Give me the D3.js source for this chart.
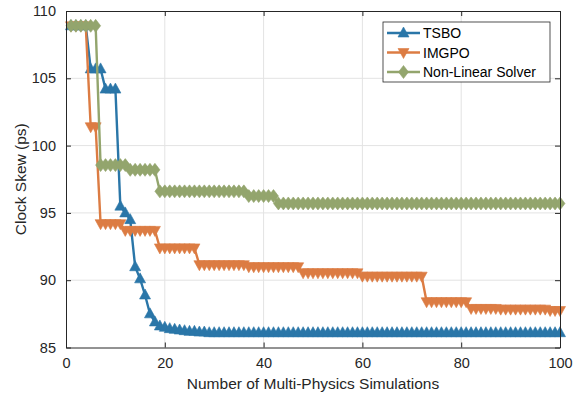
<!DOCTYPE html>
<html>
<head>
<meta charset="utf-8">
<script src="https://cdn.jsdelivr.net/npm/d3@7"></script>
<style>
  body { margin: 0; background: #fff; }
  svg { display: block; font-family: "Liberation Sans", Arial, sans-serif; }
</style>
</head>
<body>
<div id="chart"></div>
<script>
// number of simulations: 1..100
var xValues = d3.range(1, 101);

var tsbo = [
  108.9, 108.9, 108.9, 108.9, 105.7, 105.7, 105.7, 104.2, 104.2, 104.2,
  95.5, 95.0, 94.5, 91.0, 90.1, 88.9, 87.5, 86.9, 86.6, 86.5,
  86.4, 86.35, 86.3, 86.25, 86.2, 86.2, 86.15, 86.15, 86.1, 86.1,
  86.1, 86.1, 86.1, 86.1, 86.1, 86.1, 86.1, 86.1, 86.1, 86.1,
  86.1, 86.1, 86.1, 86.1, 86.1, 86.1, 86.1, 86.1, 86.1, 86.1,
  86.1, 86.1, 86.1, 86.1, 86.1, 86.1, 86.1, 86.1, 86.1, 86.1,
  86.1, 86.1, 86.1, 86.1, 86.1, 86.1, 86.1, 86.1, 86.1, 86.1,
  86.1, 86.1, 86.1, 86.1, 86.1, 86.1, 86.1, 86.1, 86.1, 86.1,
  86.1, 86.1, 86.1, 86.1, 86.1, 86.1, 86.1, 86.1, 86.1, 86.1,
  86.1, 86.1, 86.1, 86.1, 86.1, 86.1, 86.1, 86.1, 86.1, 86.1
];

var imgpo = [
  108.9, 108.9, 108.9, 108.9, 101.4, 101.4, 94.2, 94.2, 94.2, 94.2,
  94.2, 93.7, 93.7, 93.7, 93.7, 93.7, 93.7, 93.7, 92.4, 92.4,
  92.4, 92.4, 92.4, 92.4, 92.4, 92.4, 91.15, 91.15, 91.15, 91.15,
  91.15, 91.15, 91.15, 91.15, 91.15, 91.15, 91.0, 91.0, 91.0, 91.0,
  91.0, 91.0, 91.0, 91.0, 91.0, 91.0, 91.0, 90.55, 90.55, 90.55,
  90.55, 90.55, 90.55, 90.55, 90.55, 90.55, 90.55, 90.55, 90.55, 90.3,
  90.3, 90.3, 90.3, 90.3, 90.3, 90.3, 90.3, 90.3, 90.3, 90.3,
  90.3, 90.3, 88.4, 88.4, 88.4, 88.4, 88.4, 88.4, 88.4, 88.4,
  88.4, 87.9, 87.9, 87.9, 87.9, 87.9, 87.9, 87.85, 87.85, 87.85,
  87.85, 87.85, 87.85, 87.85, 87.85, 87.85, 87.85, 87.75, 87.75, 87.75
];

var nonLinear = [
  108.9, 108.9, 108.9, 108.9, 108.9, 108.9, 98.55, 98.55, 98.55, 98.55,
  98.55, 98.55, 98.2, 98.2, 98.2, 98.2, 98.2, 98.2, 96.6, 96.6,
  96.6, 96.6, 96.6, 96.6, 96.6, 96.6, 96.6, 96.6, 96.6, 96.6,
  96.6, 96.6, 96.6, 96.6, 96.6, 96.6, 96.25, 96.25, 96.25, 96.25,
  96.25, 96.25, 95.7, 95.7, 95.7, 95.7, 95.7, 95.7, 95.7, 95.7,
  95.7, 95.7, 95.7, 95.7, 95.7, 95.7, 95.7, 95.7, 95.7, 95.7,
  95.7, 95.7, 95.7, 95.7, 95.7, 95.7, 95.7, 95.7, 95.7, 95.7,
  95.7, 95.7, 95.7, 95.7, 95.7, 95.7, 95.7, 95.7, 95.7, 95.7,
  95.7, 95.7, 95.7, 95.7, 95.7, 95.7, 95.7, 95.7, 95.7, 95.7,
  95.7, 95.7, 95.7, 95.7, 95.7, 95.7, 95.7, 95.7, 95.7, 95.7
];

var seriesNames = ["TSBO", "IMGPO", "Non-Linear Solver"];
var xTicks = [0, 20, 40, 60, 80, 100];
var yTicks = [85, 90, 95, 100, 105, 110];

var width = 579, height = 401;
var plotL = 66, plotR = 560, plotT = 11, plotB = 347.5;
var axisColor = "#262626", gridColor = "#e3e3e3";
var colors = ["#2a76a8", "#dc7c43", "#93a56d"];
var markers = ["up", "down", "diamond"];

var x = d3.scaleLinear().domain([0, 100]).range([plotL, plotR]);
var y = d3.scaleLinear().domain([85, 110]).range([plotB, plotT]);

var svg = d3.select("#chart").append("svg")
  .attr("width", width)
  .attr("height", height);

// grid
svg.append("g").selectAll("line").data(xTicks.slice(1, -1)).enter().append("line")
  .attr("x1", function(d){ return x(d); }).attr("x2", function(d){ return x(d); })
  .attr("y1", plotT).attr("y2", plotB)
  .attr("stroke", gridColor).attr("stroke-width", 1);
svg.append("g").selectAll("line").data(yTicks.slice(1, -1)).enter().append("line")
  .attr("y1", function(d){ return y(d); }).attr("y2", function(d){ return y(d); })
  .attr("x1", plotL).attr("x2", plotR)
  .attr("stroke", gridColor).attr("stroke-width", 1);

function markerPath(type) {
  if (type === "up") return "M0,-6L5.5,4L-5.5,4Z";
  if (type === "down") return "M0,6L5.5,-4L-5.5,-4Z";
  return "M0,-6.5L5,0L0,6.5L-5,0Z";
}

var allSeries = [tsbo, imgpo, nonLinear];
var line = d3.line()
  .x(function(d, i){ return x(xValues[i]); })
  .y(function(d){ return y(d); });

allSeries.forEach(function(vals, k){
  var g = svg.append("g");
  g.append("path")
    .attr("d", line(vals))
    .attr("fill", "none")
    .attr("stroke", colors[k])
    .attr("stroke-width", 2.4);
  g.selectAll("path.m").data(vals).enter().append("path")
    .attr("class", "m")
    .attr("d", markerPath(markers[k]))
    .attr("transform", function(d, i){ return "translate(" + x(xValues[i]) + "," + y(d) + ")"; })
    .attr("fill", colors[k])
    .attr("stroke", colors[k])
    .attr("stroke-width", 0.6);
});

// axes box with inward ticks
var xAxisB = d3.axisBottom(x).tickValues(xTicks).tickSizeInner(-5).tickSizeOuter(0).tickPadding(10);
var xAxisT = d3.axisTop(x).tickValues(xTicks).tickSizeInner(-5).tickSizeOuter(0).tickFormat("");
var yAxisL = d3.axisLeft(y).tickValues(yTicks).tickSizeInner(-5).tickSizeOuter(0).tickPadding(10);
var yAxisR = d3.axisRight(y).tickValues(yTicks).tickSizeInner(-5).tickSizeOuter(0).tickFormat("");

function styleAxis(sel) {
  sel.selectAll("path.domain").attr("stroke", axisColor).attr("stroke-width", 1);
  sel.selectAll(".tick line").attr("stroke", axisColor);
  sel.selectAll(".tick text").attr("fill", axisColor).style("font-size", "14.5px")
    .style("font-family", "'Liberation Sans', Arial, sans-serif");
}

styleAxis(svg.append("g").attr("transform", "translate(0," + plotB + ")").call(xAxisB));
styleAxis(svg.append("g").attr("transform", "translate(0," + plotT + ")").call(xAxisT));
styleAxis(svg.append("g").attr("transform", "translate(" + plotL + ",0)").call(yAxisL));
styleAxis(svg.append("g").attr("transform", "translate(" + plotR + ",0)").call(yAxisR));

// axis labels
svg.append("text")
  .attr("x", (plotL + plotR) / 2).attr("y", 389)
  .attr("text-anchor", "middle")
  .attr("fill", axisColor).style("font-size", "15.5px")
  .text("Number of Multi-Physics Simulations");
svg.append("text")
  .attr("transform", "translate(26," + ((plotT + plotB) / 2) + ") rotate(-90)")
  .attr("text-anchor", "middle")
  .attr("fill", axisColor).style("font-size", "15.5px")
  .text("Clock Skew (ps)");

// legend
var lg = svg.append("g").attr("transform", "translate(383,22)");
lg.append("rect").attr("width", 167).attr("height", 60)
  .attr("fill", "#fff").attr("stroke", axisColor).attr("stroke-width", 0.8);
seriesNames.forEach(function(name, k){
  var yy = 11 + k * 19.5;
  lg.append("line").attr("x1", 4).attr("x2", 37).attr("y1", yy).attr("y2", yy)
    .attr("stroke", colors[k]).attr("stroke-width", 2.4);
  lg.append("path").attr("d", markerPath(markers[k]))
    .attr("transform", "translate(20.5," + yy + ")")
    .attr("fill", colors[k]).attr("stroke", colors[k]).attr("stroke-width", 0.6);
  lg.append("text").attr("x", 40).attr("y", yy + 5)
    .attr("fill", "#000").style("font-size", "14px")
    .text(name);
});
</script>
</body>
</html>
